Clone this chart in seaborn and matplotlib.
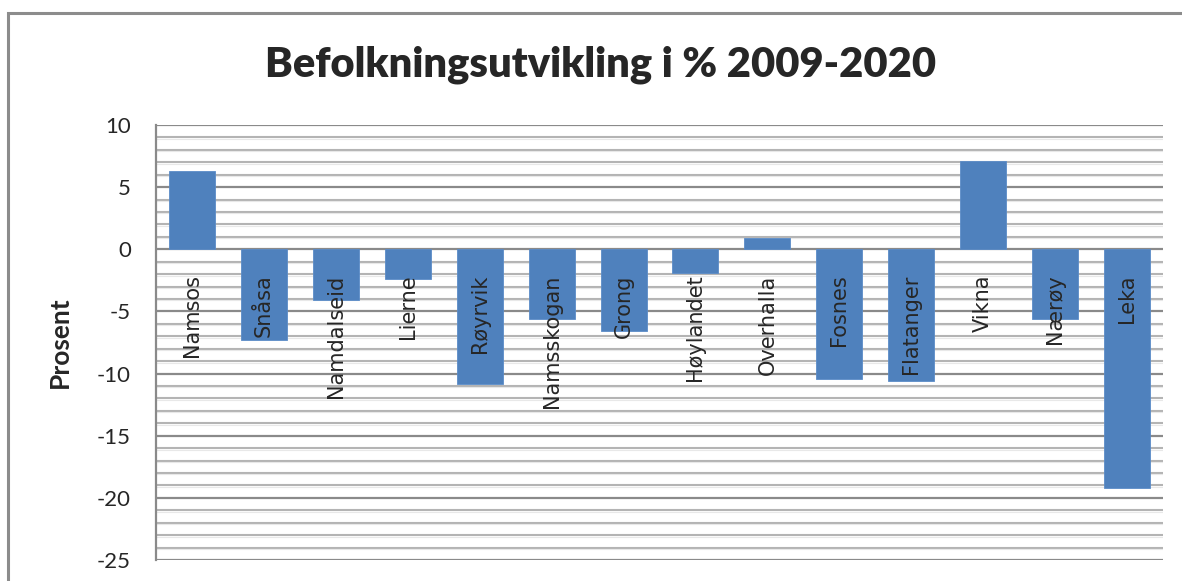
import matplotlib
matplotlib.use('Agg')
import matplotlib.pyplot as plt
import seaborn as sns
import pandas as pd
import numpy as np
from matplotlib.patches import Rectangle

kommuner = ['Namsos', 'Snåsa', 'Namdalseid', 'Lierne', 'Røyrvik', 'Namsskogan', 'Grong',
            'Høylandet', 'Overhalla', 'Fosnes', 'Flatanger', 'Vikna', 'Nærøy', 'Leka']
endring = [6.3, -7.3, -4.1, -2.4, -10.8, -5.6, -6.6, -1.9, 0.9, -10.4, -10.6, 7.1, -5.6, -19.2]
y_ticks = [10, 5, 0, -5, -10, -15, -20, -25]

df = pd.DataFrame({'kommune': kommuner, 'prosent': endring})

sns.set_style('white')
plt.rcParams['font.family'] = ['Lato', 'DejaVu Sans']

fig = plt.figure(figsize=(11.82, 5.81), dpi=100)
W, H = 1182, 581
ax = fig.add_axes([156 / W, 1 - 560 / H, (1163 - 156) / W, (560 - 125) / H])

# outer chart border (Excel style, cut off at right/bottom)
fig.patches.append(Rectangle((8 / W, -0.1), 1.2, 1 - 13 / H + 0.1, transform=fig.transFigure,
                             fill=False, edgecolor='#8c8c8c', linewidth=2.2, zorder=0))

# grid lines
for v in range(-25, 11):
    if v % 5 == 0:
        ax.axhline(v, color='#8a8a8a', lw=1.6, zorder=1)
    else:
        ax.axhline(v, color='#b4b4b4', lw=1.5, zorder=1)
        ax.axhline(v - 0.12, color='#e8e8e8', lw=0.8, zorder=1)

sns.barplot(data=df, x='kommune', y='prosent', color='#4f81bd', width=0.64,
            saturation=1, edgecolor='#5b8cc8', linewidth=0.6, ax=ax, zorder=2)

ax.set_ylim(-25, 10)
ax.set_xlim(-0.5, len(kommuner) - 0.5)
ax.set_yticks(y_ticks)
ax.set_yticklabels([str(t) for t in y_ticks], fontsize=16)
ax.tick_params(axis='y', length=4, width=1.2, color='#8a8a8a', pad=14)
ax.set_xticks([])
ax.set_xlabel('')
ax.set_ylabel('Prosent', fontsize=19, fontweight='bold', labelpad=18)

for side in ['top', 'right', 'bottom']:
    ax.spines[side].set_visible(False)
ax.spines['left'].set_color('#8a8a8a')
ax.spines['left'].set_linewidth(1.6)

# category labels below the zero line
for i, name in enumerate(kommuner):
    ax.annotate(name, xy=(i, 0), xytext=(0, -25), textcoords='offset pixels',
                rotation=90, ha='center', va='top', fontsize=15,
                family=['DejaVu Sans'], zorder=3)

fig.text(601 / W, 1 - 65 / H, 'Befolkningsutvikling i % 2009-2020', ha='center', va='center',
         fontsize=30, fontweight='heavy')

fig.savefig('out.png', dpi=100)
